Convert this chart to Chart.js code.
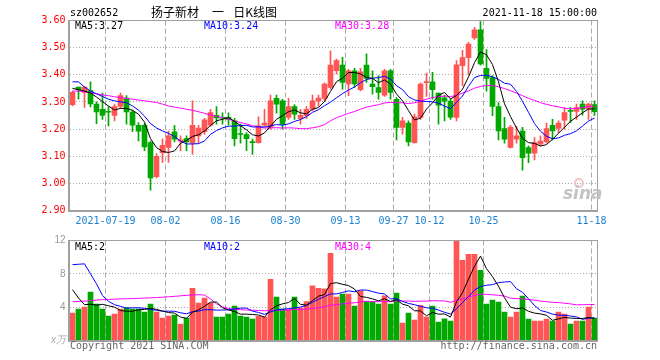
<!DOCTYPE html>
<html>
<head>
<meta charset="utf-8">
<script src="https://cdn.jsdelivr.net/npm/chart.js@4.4.0/dist/chart.umd.min.js"></script>
<style>
body { margin: 0; background: #fff; }
#wrap { position: relative; width: 660px; height: 360px; }
canvas { position: absolute; left: 0; }
#kline { top: 0; }
#vol { top: 230px; }
</style>
</head>
<body>
<div id="wrap">
  <canvas id="kline" width="660" height="230"></canvas>
  <canvas id="vol" width="660" height="130"></canvas>
</div>
<script>
const stockCode = 'sz002652';
const stockTitle = ['扬子新材', '一', '日K线图'];
const quoteTime = '2021-11-18 15:00:00';

const dates = [
  '07-09','07-12','07-13','07-14','07-15','07-16',
  '07-19','07-20','07-21','07-22','07-23',
  '07-26','07-27','07-28','07-29','07-30',
  '08-02','08-03','08-04','08-05','08-06',
  '08-09','08-10','08-11','08-12','08-13',
  '08-16','08-17','08-18','08-19','08-20',
  '08-23','08-24','08-25','08-26','08-27',
  '08-30','08-31','09-01','09-02','09-03',
  '09-06','09-07','09-08','09-09','09-10',
  '09-13','09-14','09-15','09-16','09-17',
  '09-22','09-23','09-24',
  '09-27','09-28','09-29','09-30',
  '10-08','10-11',
  '10-12','10-13','10-14','10-15',
  '10-18','10-19','10-20','10-21','10-22',
  '10-25','10-26','10-27','10-28','10-29',
  '11-01','11-02','11-03','11-04','11-05',
  '11-08','11-09','11-10','11-11','11-12',
  '11-15','11-16','11-17','11-18'
];
const tickLabels = ['2021-07-19','08-02','08-16','08-30','09-13','09-27','10-12','10-25','11-18'];

const open = [
  3.290,3.355,3.335,3.342,3.292,3.273,3.265,3.250,3.283,3.314,
  3.263,3.214,3.214,3.150,3.025,3.113,3.132,3.190,3.155,3.165,
  3.148,3.175,3.190,3.214,3.251,3.243,3.243,3.230,3.183,3.180,
  3.152,3.150,3.214,3.206,3.313,3.304,3.243,3.283,3.239,3.249,
  3.273,3.304,3.313,3.353,3.415,3.436,3.366,3.415,3.345,3.436,
  3.366,3.353,3.325,3.415,3.310,3.206,3.222,3.150,3.243,3.371,
  3.374,3.333,3.315,3.303,3.243,3.434,3.463,3.536,3.566,3.424,
  3.390,3.283,3.202,3.132,3.163,3.193,3.132,3.111,3.144,3.153,
  3.214,3.202,3.233,3.268,3.265,3.292,3.273,3.290
];
const high = [
  3.340,3.355,3.357,3.374,3.300,3.333,3.283,3.292,3.333,3.323,
  3.270,3.224,3.220,3.156,3.110,3.163,3.193,3.214,3.175,3.175,
  3.304,3.214,3.240,3.273,3.283,3.260,3.260,3.240,3.218,3.187,
  3.163,3.245,3.273,3.325,3.325,3.310,3.313,3.290,3.273,3.283,
  3.325,3.325,3.370,3.488,3.458,3.464,3.420,3.424,3.424,3.477,
  3.415,3.397,3.420,3.420,3.316,3.243,3.230,3.255,3.370,3.406,
  3.409,3.333,3.325,3.310,3.452,3.490,3.520,3.575,3.596,3.493,
  3.397,3.298,3.243,3.214,3.210,3.206,3.138,3.169,3.175,3.222,
  3.236,3.230,3.279,3.279,3.292,3.304,3.295,3.304
];
const low = [
  3.285,3.310,3.280,3.282,3.220,3.236,3.212,3.230,3.276,3.218,
  3.190,3.156,3.120,2.975,3.020,3.077,3.077,3.153,3.120,3.120,
  3.107,3.148,3.180,3.210,3.218,3.218,3.214,3.138,3.148,3.120,
  3.107,3.148,3.210,3.200,3.259,3.200,3.236,3.236,3.218,3.239,
  3.267,3.283,3.304,3.347,3.403,3.347,3.323,3.353,3.341,3.372,
  3.329,3.310,3.320,3.310,3.160,3.181,3.138,3.148,3.236,3.320,
  3.310,3.218,3.230,3.236,3.230,3.360,3.400,3.530,3.435,3.340,
  3.249,3.160,3.148,3.130,3.148,3.049,3.076,3.086,3.138,3.148,
  3.160,3.187,3.200,3.224,3.236,3.251,3.236,3.250
];
const close = [
  3.335,3.345,3.355,3.293,3.263,3.250,3.262,3.283,3.323,3.263,
  3.214,3.192,3.134,3.020,3.100,3.140,3.175,3.163,3.160,3.153,
  3.214,3.204,3.234,3.261,3.241,3.240,3.236,3.165,3.180,3.165,
  3.150,3.212,3.222,3.304,3.292,3.218,3.283,3.255,3.251,3.273,
  3.304,3.314,3.366,3.436,3.452,3.372,3.415,3.366,3.411,3.387,
  3.356,3.335,3.415,3.335,3.206,3.230,3.153,3.245,3.366,3.374,
  3.345,3.288,3.303,3.244,3.437,3.463,3.513,3.566,3.440,3.387,
  3.283,3.193,3.163,3.206,3.175,3.095,3.111,3.150,3.156,3.202,
  3.193,3.222,3.261,3.265,3.279,3.273,3.292,3.264
];
// volume in 万手
const volume = [
  3.29,3.76,4.00,5.80,4.36,3.76,2.93,3.17,3.76,3.96,
  3.76,3.76,3.41,4.36,3.41,2.69,2.93,3.05,1.97,2.69,
  6.27,4.48,5.08,4.48,2.80,2.80,3.17,4.12,2.93,2.80,
  2.57,2.89,2.80,7.35,5.20,3.76,3.68,5.20,3.88,4.68,
  6.55,6.27,6.20,10.46,5.20,5.56,5.56,4.12,5.96,4.68,
  4.68,4.36,5.36,4.36,5.68,2.09,3.29,2.45,4.20,2.80,
  4.12,2.21,2.61,2.33,11.93,9.62,10.34,10.34,8.43,4.36,
  4.84,4.60,3.41,2.80,3.41,5.32,2.57,2.33,2.33,2.57,
  2.33,3.41,3.17,1.97,2.33,2.33,4.00,2.69
];

// moving average values before enough days are in the window
const ma5Lead = [3.350,3.345,3.340,3.333];
const ma10Lead = [3.374,3.374,3.355,3.340,3.330,3.320,3.310,3.304,3.300];
const ma30Lead = [
  3.340,3.340,3.338,3.334,3.330,3.326,3.323,3.319,3.316,3.313,
  3.310,3.307,3.304,3.301,3.298,3.292,3.285,3.281,3.277,3.273,
  3.269,3.264,3.258,3.252,3.247,3.242,3.236,3.230,3.224
];
const volMa5Lead = [6.10,5.10,4.30,4.35];
const volMa10Lead = [9.10,9.15,9.20,8.00,6.80,5.40,4.70,4.30,4.10];
const volMa30Lead = [
  4.65,4.68,4.72,4.78,4.85,4.90,4.93,4.96,4.99,5.01,
  5.03,5.06,5.09,5.12,5.16,5.20,5.25,5.30,5.36,5.42,
  5.47,5.50,5.45,5.00,4.40,4.05,3.85,3.76,3.70
];

const red = '#ff5555', green = '#00a800';
const monoFont = '"DejaVu Sans Mono", monospace';

function movingAvg(vals, n, lead) {
  return vals.map((v, i) => {
    if (i < n - 1) return lead[i];
    let s = 0;
    for (let k = i - n + 1; k <= i; k++) s += vals[k];
    return s / n;
  });
}

const ma5 = movingAvg(close, 5, ma5Lead);
const ma10 = movingAvg(close, 10, ma10Lead);
const ma30 = movingAvg(close, 30, ma30Lead);
const vma5 = movingAvg(volume, 5, volMa5Lead);
const vma10 = movingAvg(volume, 10, volMa10Lead);
const vma30 = movingAvg(volume, 30, volMa30Lead);

const candleColor = close.map((c, i) => c >= open[i] ? red : green);

function tickName(i) {
  const d = dates[i];
  if (!d) return '';
  return tickLabels.find(t => t.endsWith(d)) || '';
}

function xScale(showTicks) {
  return {
    type: 'category',
    offset: true,
    grid: {
      offset: true,
      drawTicks: false,
      color: ctx => tickName(ctx.index) ? '#aaaaaa' : 'rgba(0,0,0,0)'
    },
    border: { display: false, dash: [5, 3] },
    ticks: {
      display: showTicks,
      autoSkip: false,
      maxRotation: 0,
      padding: 5,
      labelOffset: -3,
      color: '#1a80d0',
      font: { family: monoFont, size: 10 },
      callback: (v, i) => tickName(i)
    },
    afterFit: s => { s.height = showTicks ? 19.5 : 0; }
  };
}

function maLine(data, color) {
  return { type: 'line', data: data, borderColor: color, borderWidth: 1,
           pointRadius: 0, tension: 0, order: 0 };
}

// gray frame round the plot area
const frame = {
  id: 'frame',
  afterDraw(chart) {
    const a = chart.chartArea, ctx = chart.ctx;
    ctx.save();
    ctx.fillStyle = '#a0a0a0';
    ctx.fillRect(a.left - 1.5, a.top - 0.5, 2, a.height + 1);
    ctx.fillRect(a.left - 1.5, a.bottom - 0.5, a.width + 2, 2);
    ctx.fillRect(a.left - 1.5, a.top - 0.5, a.width + 2, 1);
    ctx.fillRect(a.right - 0.5, a.top - 0.5, 1, a.height + 1);
    ctx.restore();
  }
};

const klineText = {
  id: 'klineText',
  afterDraw(chart) {
    const ctx = chart.ctx;
    ctx.save();
    ctx.font = '10px ' + monoFont;
    ctx.fillStyle = '#000';
    ctx.textAlign = 'left';
    ctx.fillText(stockCode, 70, 16);
    ctx.textAlign = 'right';
    ctx.fillText(quoteTime, 597, 16);
    // title in three pieces, spaced like the original
    ctx.font = '12px "Noto Sans CJK SC"';
    ctx.textAlign = 'left';
    ctx.fillText(stockTitle[0], 151, 17);
    ctx.textAlign = 'center';
    ctx.fillText(stockTitle[1], 218, 17);
    ctx.textAlign = 'right';
    ctx.fillText(stockTitle[2], 277, 17);

    ctx.textAlign = 'left';
    ctx.font = '10px ' + monoFont;
    ctx.fillStyle = '#000';
    ctx.fillText('MA5:' + ma5[ma5.length - 1].toFixed(2), 75, 29);
    ctx.fillStyle = '#0000ff';
    ctx.fillText('MA10:' + ma10[ma10.length - 1].toFixed(2), 204, 29);
    ctx.fillStyle = '#ff00ff';
    ctx.fillText('MA30:' + ma30[ma30.length - 1].toFixed(2), 335, 29);

    // watermark
    ctx.strokeStyle = '#f2c4c4';
    ctx.lineWidth = 2;
    ctx.beginPath();
    ctx.arc(579, 183, 4, 0, Math.PI * 2);
    ctx.stroke();
    ctx.fillStyle = '#c4c4c4';
    ctx.font = 'italic bold 17px "DejaVu Sans"';
    ctx.fillText('sina', 563, 199);
    ctx.restore();
  }
};

const volText = {
  id: 'volText',
  afterDraw(chart) {
    const ctx = chart.ctx;
    ctx.save();
    ctx.font = '10px ' + monoFont;
    ctx.textAlign = 'left';
    ctx.fillStyle = '#000';
    ctx.fillText('MA5:' + Math.floor(vma5[vma5.length - 1]), 75, 20);
    ctx.fillStyle = '#0000ff';
    ctx.fillText('MA10:' + Math.floor(vma10[vma10.length - 1]), 204, 20);
    ctx.fillStyle = '#ff00ff';
    ctx.fillText('MA30:' + Math.floor(vma30[vma30.length - 1]), 335, 20);

    ctx.fillStyle = '#666';
    ctx.fillText('Copyright 2021 SINA.COM', 70, 119);
    ctx.textAlign = 'right';
    ctx.fillText('http://finance.sina.com.cn', 597, 119);
    ctx.fillStyle = '#aaa';
    ctx.font = 'italic 10px "Liberation Sans"';
    ctx.fillText('x万', 66, 113);
    ctx.restore();
  }
};

new Chart(document.getElementById('kline'), {
  type: 'bar',
  data: {
    labels: dates,
    datasets: [
      maLine(ma5, '#000000'),
      maLine(ma10, '#0000ff'),
      maLine(ma30, '#ff00ff'),
      {
        data: close.map((c, i) => [open[i], c]),
        backgroundColor: candleColor,
        barThickness: 5,
        minBarLength: 1,
        grouped: false,
        order: 1
      },
      {
        data: low.map((l, i) => [l, high[i]]),
        backgroundColor: candleColor,
        barThickness: 1,
        grouped: false,
        order: 2
      }
    ]
  },
  options: {
    responsive: false,
    animation: false,
    events: [],
    layout: { padding: { left: 0, right: 62.5, top: 20.5, bottom: 0 } },
    plugins: { legend: { display: false }, tooltip: { enabled: false } },
    scales: {
      x: xScale(true),
      y: {
        min: 2.9,
        max: 3.6,
        grid: { drawTicks: false, color: '#aaaaaa' },
        border: { display: false, dash: [1, 2] },
        ticks: {
          stepSize: 0.1,
          padding: 4,
          color: '#ff0000',
          font: { family: monoFont, size: 10 },
          callback: v => v.toFixed(2)
        },
        afterFit: s => { s.width = 69.5; }
      }
    }
  },
  plugins: [frame, klineText]
});

new Chart(document.getElementById('vol'), {
  type: 'bar',
  data: {
    labels: dates,
    datasets: [
      maLine(vma5, '#000000'),
      maLine(vma10, '#0000ff'),
      maLine(vma30, '#ff00ff'),
      {
        data: volume,
        backgroundColor: candleColor,
        barThickness: 5,
        grouped: false,
        order: 1
      }
    ]
  },
  options: {
    responsive: false,
    animation: false,
    events: [],
    layout: { padding: { left: 0, right: 62.5, top: 10.5, bottom: 19.5 } },
    plugins: { legend: { display: false }, tooltip: { enabled: false } },
    scales: {
      x: xScale(false),
      y: {
        min: 0,
        max: 12,
        grid: { drawTicks: false, color: '#aaaaaa' },
        border: { display: false, dash: [1, 2] },
        ticks: {
          stepSize: 4,
          padding: 4,
          color: '#999999',
          font: { family: '"Liberation Sans"', size: 10 },
          callback: v => v === 0 ? '' : v
        },
        afterFit: s => { s.width = 69.5; }
      }
    }
  },
  plugins: [frame, volText]
});
</script>
</body>
</html>
